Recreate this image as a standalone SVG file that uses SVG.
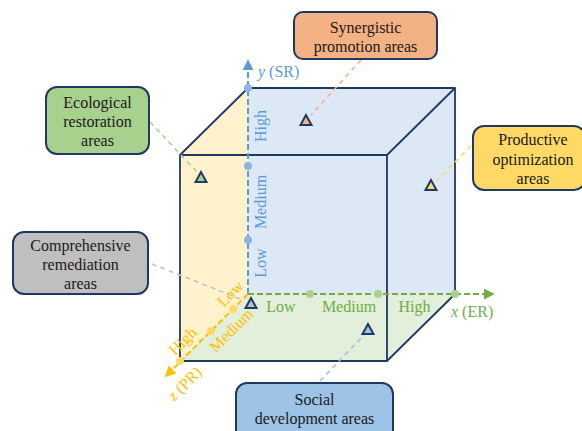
<svg xmlns="http://www.w3.org/2000/svg" width="582" height="431" viewBox="0 0 582 431" font-family="Liberation Serif, Times New Roman, serif">
<style>
.box{stroke:#1f3864;stroke-width:2}
.t{font-size:16px;fill:#1a1a1a;text-anchor:middle}
.edge{fill:none;stroke:#1f3864;stroke-width:1.8;stroke-linejoin:round}
.lead{fill:none;stroke-width:1.5;stroke-dasharray:5,4}
.mk{stroke:#1f3864;stroke-width:2;stroke-linejoin:miter}
.ax{font-size:16px}
</style>
<defs>
<marker id="aB" viewBox="0 0 10 10" refX="2" refY="5" markerWidth="5.5" markerHeight="5.5" orient="auto" markerUnits="strokeWidth"><path d="M0,0L10,5L0,10z" fill="#5b9bd5"/></marker>
<marker id="aG" viewBox="0 0 10 10" refX="2" refY="5" markerWidth="5.5" markerHeight="5.5" orient="auto" markerUnits="strokeWidth"><path d="M0,0L10,5L0,10z" fill="#70ad47"/></marker>
<marker id="aY" viewBox="0 0 10 10" refX="2" refY="5" markerWidth="5.5" markerHeight="5.5" orient="auto" markerUnits="strokeWidth"><path d="M0,0L10,5L0,10z" fill="#ffc000"/></marker>
</defs>
<g id="cube">
<rect x="248" y="88" width="207" height="206" fill="#dce8f5"/>
<polygon points="180,155 248,88 248,294 180,361" fill="#fff2cc"/>
<polygon points="248,294 455,294 387,361 180,361" fill="#e2efda"/>
<polyline class="edge" points="180,155 248,88 455,88 455,294 387,361"/>
<line class="edge" x1="387" y1="155" x2="455" y2="88"/>
<rect class="edge" x="180" y="155" width="207" height="206"/>
</g>
<g id="axes">
<line x1="248" y1="294" x2="248" y2="68" stroke="#5b9bd5" stroke-width="2" stroke-dasharray="6,3" marker-end="url(#aB)"/>
<line x1="248" y1="294" x2="486" y2="294" stroke="#70ad47" stroke-width="2" stroke-dasharray="6,3" marker-end="url(#aG)"/>
<line x1="248" y1="294" x2="171" y2="371" stroke="#ffc000" stroke-width="2" stroke-dasharray="6,3" marker-end="url(#aY)"/>
<g fill="#8db3e2"><circle cx="248" cy="88" r="4"/><circle cx="248" cy="166" r="4"/><circle cx="248" cy="240" r="4"/></g>
<g fill="#a9d18e"><circle cx="310" cy="294" r="4"/><circle cx="378" cy="294" r="4"/><circle cx="455" cy="294" r="4"/></g>
<g fill="#ffd966"><circle cx="233" cy="309" r="4"/><circle cx="211" cy="331" r="4"/><circle cx="180" cy="361" r="4"/></g>
<g class="ax" fill="#5b9bd5" text-anchor="middle">
<text transform="translate(266,126) rotate(-90)">High</text>
<text transform="translate(266,202) rotate(-90)">Medium</text>
<text transform="translate(266,263) rotate(-90)">Low</text>
<text x="258" y="77" text-anchor="start"><tspan font-style="italic">y</tspan> (SR)</text>
</g>
<g class="ax" fill="#70ad47" text-anchor="middle">
<text x="281" y="312">Low</text>
<text x="349" y="312">Medium</text>
<text x="414.5" y="312">High</text>
<text x="451" y="317" text-anchor="start"><tspan font-style="italic">x</tspan> (ER)</text>
</g>
<g class="ax" fill="#ffc000" text-anchor="middle">
<text transform="translate(234,297.5) rotate(-45)">Low</text>
<text transform="translate(235,334) rotate(-45)">Medium</text>
<text transform="translate(186.5,345) rotate(-45)">High</text>
<text transform="translate(188.5,387.5) rotate(-45)"><tspan font-style="italic">z</tspan> (PR)</text>
</g>
</g>
<g id="connectors">
<line class="lead" stroke="#a9d18e" x1="150" y1="122" x2="197" y2="172"/>
<line class="lead" stroke="#f4b183" x1="361" y1="60" x2="311" y2="115"/>
<line class="lead" stroke="#ffd966" x1="471" y1="146" x2="437" y2="180"/>
<line class="lead" stroke="#bfbfbf" x1="152" y1="264" x2="243" y2="300"/>
<line class="lead" stroke="#9dc3e6" x1="320" y1="381" x2="364" y2="335"/>
</g>
<g id="markers">
<polygon class="mk" fill="#a9d18e" points="201,172 195.5,182 206.5,182"/>
<polygon class="mk" fill="#f4b183" points="306,115 300.5,125 311.5,125"/>
<polygon class="mk" fill="#ffd966" points="431,180 425.5,190 436.5,190"/>
<polygon class="mk" fill="#bfbfbf" points="251,298 245.5,308 256.5,308"/>
<polygon class="mk" fill="#9dc3e6" points="368,324 362.5,334 373.5,334"/>
</g>
<g id="ecological">
<rect class="box" x="46" y="87" width="103" height="67" rx="11" fill="#a9d18e"/>
<text class="t" x="97.5" y="107.5">Ecological</text>
<text class="t" x="97.5" y="126.5">restoration</text>
<text class="t" x="97.5" y="145.5">areas</text>
</g>
<g id="synergistic">
<rect class="box" x="294" y="12" width="143" height="47" rx="9" fill="#f4b183"/>
<text class="t" x="365.5" y="32.5">Synergistic</text>
<text class="t" x="365.5" y="51.5">promotion areas</text>
</g>
<g id="productive">
<rect class="box" x="473" y="126" width="112" height="64" rx="11" fill="#ffd966"/>
<text class="t" x="533" y="144.5">Productive</text>
<text class="t" x="533" y="164.5">optimization</text>
<text class="t" x="533" y="183.5">areas</text>
</g>
<g id="comprehensive">
<rect class="box" x="13" y="232" width="135" height="62" rx="11" fill="#bfbfbf"/>
<text class="t" x="80.5" y="250.5">Comprehensive</text>
<text class="t" x="80.5" y="269.5">remediation</text>
<text class="t" x="80.5" y="288.5">areas</text>
</g>
<g id="social">
<rect class="box" x="236" y="383" width="157" height="60" rx="11" fill="#9dc3e6"/>
<text class="t" x="314.5" y="404.5">Social</text>
<text class="t" x="314.5" y="423.5">development areas</text>
</g>
</svg>
